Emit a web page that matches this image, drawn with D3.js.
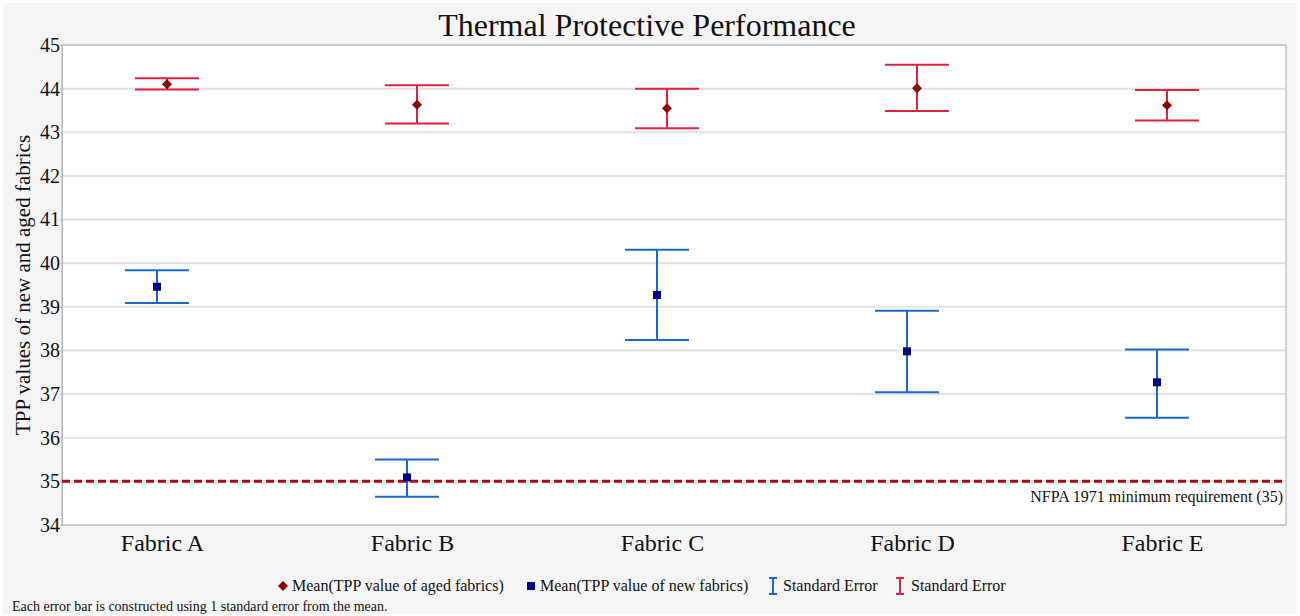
<!DOCTYPE html>
<html>
<head>
<meta charset="utf-8">
<script src="https://cdn.jsdelivr.net/npm/d3@7/dist/d3.min.js"></script>
<style>
  html, body { margin: 0; padding: 0; background: #ffffff; }
  svg { display: block; }
  svg text { font-family: "Liberation Serif", "Times New Roman", serif !important; fill: #111; }
</style>
</head>
<body>
<svg id="chart" width="1300" height="616" font-family="Liberation Serif"></svg>
<script>
// ---- data ----
const categories = ["Fabric A", "Fabric B", "Fabric C", "Fabric D", "Fabric E"];
const agedMean  = [44.10, 43.63, 43.55, 44.01, 43.62];
const agedUpper = [44.24, 44.08, 44.00, 44.55, 43.97];
const agedLower = [43.98, 43.20, 43.09, 43.49, 43.27];
const newMean   = [39.46, 35.09, 39.27, 37.98, 37.27];
const newUpper  = [39.84, 35.50, 40.31, 38.91, 38.02];
const newLower  = [39.09, 34.65, 38.24, 37.04, 36.46];
const yTicks = [34, 35, 36, 37, 38, 39, 40, 41, 42, 43, 44, 45];
const minRequirement = 35;
const title = "Thermal Protective Performance";
const yTitle = "TPP values of new and aged fabrics";
const refLabel = "NFPA 1971 minimum requirement (35)";
const legendLabels = ["Mean(TPP value of aged fabrics)", "Mean(TPP value of new fabrics)", "Standard Error", "Standard Error"];
const footnote = "Each error bar is constructed using 1 standard error from the mean.";

// ---- layout ----
const svg = d3.select("#chart");
const W = 1300, H = 616;
const m = { left: 62, top: 45, right: 14, bottom: 91 };
const pw = W - m.left - m.right;   // 1224
const ph = H - m.top - m.bottom;   // 480
const SERIF = "'Liberation Serif', 'Times New Roman', serif";

const RED_EB = "#e3203f", BLUE_EB = "#1a68d1";
const AGED_C = "#8b0000", NEW_C = "#00008b";

// panel background
svg.append("rect").attr("x", 3).attr("y", 3).attr("width", W - 6).attr("height", H - 5)
  .attr("fill", "#f5f5f5");

const g = svg.append("g").attr("transform", `translate(${m.left},${m.top})`);
g.append("rect").attr("width", pw).attr("height", ph).attr("fill", "#ffffff");

const y = d3.scaleLinear().domain([34, 45]).range([ph, 0]);
const x = d3.scalePoint().domain(categories).range([100, 1100]);
const off = 5;

// grid
g.append("g").selectAll("line").data(yTicks).join("line")
  .attr("x1", 0).attr("x2", pw)
  .attr("y1", d => y(d)).attr("y2", d => y(d))
  .attr("stroke", "#e2e2e2").attr("stroke-width", 2);

// border
g.append("rect").attr("width", pw).attr("height", ph)
  .attr("fill", "none").attr("stroke", "#c4c4c4").attr("stroke-width", 1.5);

// y axis
const yAxis = g.append("g").call(d3.axisLeft(y).tickValues(yTicks).tickSize(2).tickPadding(0).tickFormat(d3.format("d")))
  .attr("font-family", SERIF).attr("font-size", 20);
yAxis.select(".domain").attr("stroke", "#b8b8b8");
yAxis.selectAll(".tick line").attr("stroke", "#b8b8b8");
yAxis.selectAll(".tick text").style("font-size", "20px").attr("fill", "#111");

// x axis labels
const xAxis = g.append("g").attr("transform", `translate(0,${ph})`)
  .call(d3.axisBottom(x).tickSize(0).tickPadding(6))
  .attr("font-family", SERIF).attr("font-size", 24);
xAxis.select(".domain").remove();
xAxis.selectAll(".tick text").style("font-size", "24px").attr("fill", "#111")
  .attr("dy", "0.85em");

// reference line
g.append("line").attr("x1", 0).attr("x2", pw)
  .attr("y1", y(minRequirement)).attr("y2", y(minRequirement))
  .attr("stroke", "#ad0a14").attr("stroke-width", 3).attr("stroke-dasharray", "8,4");
g.append("text").attr("x", pw - 3).attr("y", y(minRequirement) + 21)
  .attr("text-anchor", "end").style("font-size", "16px").text(refLabel);

// error bars
const capHalf = 32;
function drawBars(mean, upper, lower, dx, color) {
  const data = categories.map((c, i) => ({ c, m: mean[i], u: upper[i], l: lower[i] }));
  const eb = g.append("g").attr("stroke", color).attr("stroke-width", 2).attr("fill", "none");
  eb.selectAll(".stem").data(data).join("line").attr("class", "stem")
    .attr("x1", d => x(d.c) + dx).attr("x2", d => x(d.c) + dx)
    .attr("y1", d => y(d.u)).attr("y2", d => y(d.l));
  eb.selectAll(".capu").data(data).join("line").attr("class", "capu")
    .attr("x1", d => x(d.c) + dx - capHalf).attr("x2", d => x(d.c) + dx + capHalf)
    .attr("y1", d => y(d.u)).attr("y2", d => y(d.u));
  eb.selectAll(".capl").data(data).join("line").attr("class", "capl")
    .attr("x1", d => x(d.c) + dx - capHalf).attr("x2", d => x(d.c) + dx + capHalf)
    .attr("y1", d => y(d.l)).attr("y2", d => y(d.l));
  return data;
}
const newData = drawBars(newMean, newUpper, newLower, -off, BLUE_EB);
const agedData = drawBars(agedMean, agedUpper, agedLower, off, RED_EB);

// markers
g.append("g").selectAll("rect").data(newData).join("rect")
  .attr("x", d => x(d.c) - off - 4).attr("y", d => y(d.m) - 4)
  .attr("width", 8).attr("height", 8).attr("fill", NEW_C);
g.append("g").selectAll("path").data(agedData).join("path")
  .attr("transform", d => `translate(${x(d.c) + off},${y(d.m)})`)
  .attr("d", d3.symbol(d3.symbolDiamond2 || d3.symbolDiamond, 64)())
  .attr("fill", AGED_C);

// title
svg.append("text").attr("x", 647).attr("y", 36).attr("text-anchor", "middle")
  .style("font-size", "32px").text(title);

// y title
svg.append("text").attr("transform", `translate(30,${m.top + ph / 2}) rotate(-90)`)
  .attr("text-anchor", "middle").style("font-size", "21px").text(yTitle);

// legend
const ly = 586;
const lg = svg.append("g");
lg.append("path").attr("transform", `translate(283,${ly})`)
  .attr("d", d3.symbol(d3.symbolDiamond2 || d3.symbolDiamond, 64)()).attr("fill", AGED_C);
lg.append("text").attr("x", 292).attr("y", ly + 5).style("font-size", "16px").text(legendLabels[0]);
lg.append("rect").attr("x", 527).attr("y", ly - 4).attr("width", 8).attr("height", 8).attr("fill", NEW_C);
lg.append("text").attr("x", 540).attr("y", ly + 5).style("font-size", "16px").text(legendLabels[1]);
function ebIcon(cx, color) {
  const ig = lg.append("g").attr("stroke", color).attr("stroke-width", 2);
  ig.append("line").attr("x1", cx).attr("x2", cx).attr("y1", ly - 8).attr("y2", ly + 8);
  ig.append("line").attr("x1", cx - 4).attr("x2", cx + 4).attr("y1", ly - 8).attr("y2", ly - 8);
  ig.append("line").attr("x1", cx - 4).attr("x2", cx + 4).attr("y1", ly + 8).attr("y2", ly + 8);
}
ebIcon(773, BLUE_EB);
lg.append("text").attr("x", 783).attr("y", ly + 5).style("font-size", "16px").text(legendLabels[2]);
ebIcon(900, RED_EB);
lg.append("text").attr("x", 911).attr("y", ly + 5).style("font-size", "16px").text(legendLabels[3]);

// footnote
svg.append("text").attr("x", 12).attr("y", 611).style("font-size", "14px").text(footnote);
</script>
</body>
</html>
